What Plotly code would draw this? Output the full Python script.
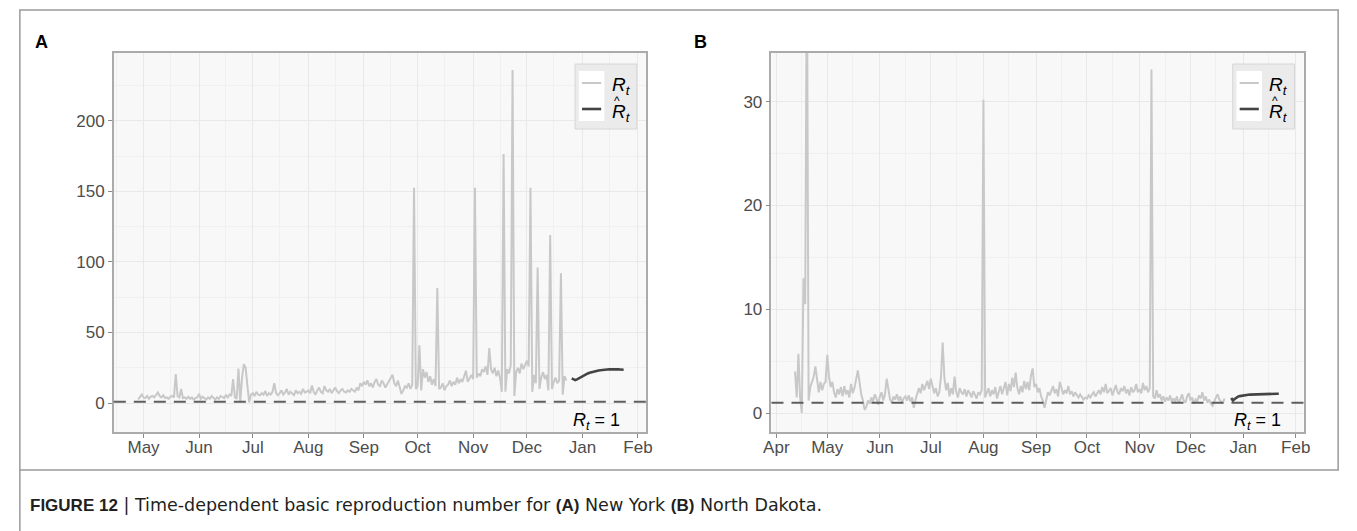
import pandas as pd
import plotly.graph_objects as go

# ---------------- New York: daily R_t (2020-04-28 .. 2020-12-23) ----------------
ny_apr = [2.5, 4, 6]
ny_may = [4, 3.5, 5, 3, 4.5, 5, 4, 6, 7.5, 5, 4, 5.5, 3.5, 4, 3, 4.5, 5, 4, 20.5, 5,
          4, 10, 3.5, 4, 3, 4.5, 3, 4, 2.5, 3.5, 4]
ny_jun = [6.5, 3, 4.5, 3.5, 2.5, 4, 3, 5, 3.5, 2.5, 4, 3, 5, 4, 3.5, 5.5, 4, 6, 5, 17,
          4, 3, 24.5, 1, 18, 27.5, 25, 12, 0.5, 6]
ny_jul = [7, 5, 8, 6, 5.5, 7, 6, 8.5, 5, 7, 6, 8, 14, 7, 5.5, 7, 9, 6, 7.5, 10,
          6, 8, 7, 5.5, 9, 7, 8, 6.5, 10, 7.5, 8]
ny_aug = [9, 7, 12.5, 8, 6, 9, 11, 8, 7, 12, 9, 8, 10, 7, 9, 11, 8.5, 7, 9, 10,
          8, 7.5, 9, 8, 10, 9, 8, 11, 9, 14, 12]
ny_sep = [15, 13, 16, 12, 14, 11, 15, 17, 13, 12, 16, 14, 11, 13, 15, 18, 20, 14, 12, 16,
          10, 6.5, 9, 12, 11, 14, 10, 13, 152.5, 10]
ny_oct = [12, 41, 9, 24, 18, 22, 15, 19, 13, 17, 12, 81.5, 10, 11, 14, 9, 12, 13, 16, 12,
          15, 13, 18, 14, 17, 15, 19, 23, 15, 18, 20]
ny_nov = [17, 152.5, 18, 21, 19, 24, 22, 26, 20, 39, 24, 21, 25, 19, 23, 18, 8, 176.5, 8, 24,
          21, 27, 236, 5, 22, 25, 21, 28, 24, 27]
ny_dec = [30, 26, 152.5, 8, 20, 14, 96, 10, 18, 22, 17, 20, 9, 119, 10, 15, 18, 14, 16, 92,
          6, 19, 16]
# Fitted R-hat for New York (2020-12-26 .. 2021-01-24)
ny_fit = [17.5, 16.8, 16.3, 16.8, 17.6, 18.4, 19.2, 19.9, 20.5, 21.0, 21.5, 21.9, 22.3, 22.6,
          22.9, 23.1, 23.3, 23.5, 23.6, 23.7, 23.8, 23.9, 23.9, 24.0, 24.0, 23.9, 23.9, 23.8,
          23.7, 23.6]

# ---------------- North Dakota: daily R_t (2020-04-12 .. 2020-12-21) ----------------
nd_apr = [4.0, 1.5, 5.7, 1.5, 0.0, 13, 10.5, 45, 1.2, 2.5, 3.0, 3.5, 4.5, 3.0, 2.0, 3.0,
          2.2, 2.8, 3.0]
nd_may = [5.6, 3.5, 2.5, 3.0, 2.0, 1.5, 2.3, 1.8, 2.5, 1.6, 2.6, 1.8, 2.2, 1.5, 2.8, 1.9,
          2.4, 3.2, 4.1, 3.0, 1.8, 1.2, 0.3, 0.6, 1.2, 0.9, 1.5, 1.1, 1.8, 1.4, 0.8]
nd_jun = [1.6, 2.0, 1.2, 1.8, 3.3, 2.2, 1.3, 1.0, 1.6, 1.3, 1.8, 1.2, 1.6, 1.0, 1.4, 1.6,
          1.2, 1.7, 1.1, 1.5, 0.5, 1.3, 2.0, 2.4, 1.9, 2.8, 2.2, 2.6, 3.1, 2.3]
nd_jul = [3.3, 2.6, 1.9, 2.4, 1.6, 2.0, 3.5, 6.8, 3.4, 2.2, 2.9, 1.6, 2.4, 1.8, 3.5, 2.0,
          1.5, 2.4, 2.0, 1.8, 2.3, 1.6, 2.2, 1.9, 1.5, 2.1, 1.7, 1.4, 2.0, 1.8, 2.2]
nd_aug = [30.2, 1.5, 1.9, 2.4, 1.6, 2.2, 1.8, 2.5, 1.4, 2.0, 2.6, 1.8, 2.3, 3.0, 1.7, 2.8,
          2.1, 3.4, 2.5, 3.9, 2.4, 1.8, 2.6, 2.0, 3.1, 2.3, 3.0, 2.2, 3.6, 4.3, 2.5]
nd_sep = [2.8, 2.0, 2.4, 1.6, 1.2, 0.5, 1.4, 2.0, 1.7, 2.2, 2.6, 1.9, 2.3, 1.6, 3.0, 2.4,
          1.8, 2.2, 1.9, 2.6, 1.8, 2.1, 1.6, 2.0, 1.7, 1.5, 1.8, 1.6, 1.3, 1.5]
nd_oct = [1.4, 1.7, 1.5, 1.8, 2.0, 1.6, 1.9, 2.2, 1.8, 2.5, 2.0, 2.8, 1.9, 2.1, 2.4, 1.7,
          2.2, 2.7, 2.0, 1.8, 2.4, 2.1, 2.6, 1.9, 2.3, 1.7, 2.5, 2.0, 2.2, 2.8, 2.0]
nd_nov = [2.3, 1.9, 2.9, 2.2, 2.6, 2.0, 2.4, 33.1, 1.6, 1.4, 2.2, 1.5, 1.8, 1.2, 1.6, 1.1,
          1.5, 1.2, 1.7, 1.0, 1.4, 1.1, 1.6, 1.0, 1.3, 1.8, 1.2, 1.0, 1.6, 1.9]
nd_dec = [1.2, 1.5, 0.9, 1.3, 1.1, 1.7, 1.4, 2.0, 1.2, 1.6, 1.0, 1.3, 0.9, 0.7, 1.2, 1.5,
          1.8, 1.3, 1.1, 0.9, 1.4]
# Fitted R-hat for North Dakota (2020-12-25 .. 2021-01-22)
nd_fit = [1.45, 1.2, 1.35, 1.5, 1.58, 1.63, 1.67, 1.7, 1.72, 1.74, 1.76, 1.77, 1.78, 1.79,
          1.8, 1.81, 1.82, 1.82, 1.83, 1.83, 1.84, 1.84, 1.85, 1.85, 1.85, 1.85, 1.86, 1.86,
          1.86]


def series(chunks):
    """Join (first-day, values) chunks into one dated series."""
    xs, ys = [], []
    for start, vals in chunks:
        xs.extend(pd.date_range(start, periods=len(vals), freq="D"))
        ys.extend(vals)
    return xs, ys


ny_x, ny_y = series([("2020-04-28", ny_apr), ("2020-05-01", ny_may), ("2020-06-01", ny_jun),
                     ("2020-07-01", ny_jul), ("2020-08-01", ny_aug), ("2020-09-01", ny_sep),
                     ("2020-10-01", ny_oct), ("2020-11-01", ny_nov), ("2020-12-01", ny_dec)])
ny_fx, ny_fy = series([("2020-12-26", ny_fit)])
nd_x, nd_y = series([("2020-04-12", nd_apr), ("2020-05-01", nd_may), ("2020-06-01", nd_jun),
                     ("2020-07-01", nd_jul), ("2020-08-01", nd_aug), ("2020-09-01", nd_sep),
                     ("2020-10-01", nd_oct), ("2020-11-01", nd_nov), ("2020-12-01", nd_dec)])
nd_fx, nd_fy = series([("2020-12-25", nd_fit)])

W, H = 1357, 531
RT_COL = "#C8C8C8"
FIT_COL = "#444444"
FONT = "Liberation Sans"


def px_x(v):
    return v / W


def px_y(v):
    return 1 - v / H


fig = go.Figure()
fig.add_trace(go.Scatter(x=ny_x, y=ny_y, mode="lines", line=dict(color=RT_COL, width=2),
                         xaxis="x", yaxis="y", showlegend=False))
fig.add_trace(go.Scatter(x=ny_fx, y=ny_fy, mode="lines", line=dict(color=FIT_COL, width=2.6),
                         xaxis="x", yaxis="y", showlegend=False))
fig.add_trace(go.Scatter(x=nd_x, y=nd_y, mode="lines", line=dict(color=RT_COL, width=2),
                         xaxis="x2", yaxis="y2", showlegend=False))
fig.add_trace(go.Scatter(x=nd_fx, y=nd_fy, mode="lines", line=dict(color=FIT_COL, width=2.6),
                         xaxis="x2", yaxis="y2", showlegend=False))

ydom = [px_y(432), px_y(53)]
axis_common = dict(showline=True, mirror=True, linecolor="#ABABAB", linewidth=1.5,
                   ticks="outside", ticklen=4, tickcolor="#8A8A8A", tickwidth=1,
                   showgrid=True, gridcolor="#E9E9E9", gridwidth=1, zeroline=False,
                   tickfont=dict(family=FONT, size=17, color="#4D4D4D"))

xcommon = dict(axis_common, type="date", dtick="M1", tickformat="%b",
               ticklabelstandoff=-5,
               minor=dict(showgrid=True, gridcolor="#F0F0F0", dtick="M1",
                          tick0="2020-01-16", ticks=""))

fig.update_layout(
    width=W, height=H,
    margin=dict(l=0, r=0, t=0, b=0),
    paper_bgcolor="white", plot_bgcolor="#F8F8F8",
    showlegend=False,
    xaxis=dict(xcommon, domain=[px_x(107), px_x(645)],
               range=["2020-04-14 10:00", "2021-02-05 10:00"], anchor="y"),
    yaxis=dict(axis_common, domain=ydom, range=[-20.5, 248], dtick=50, tick0=0,
               minor=dict(showgrid=True, gridcolor="#F0F0F0", dtick=50, tick0=25),
               anchor="x"),
    xaxis2=dict(xcommon, domain=[px_x(772), px_x(1310)],
                range=["2020-03-29 03:00", "2021-02-05 14:00"], anchor="y2"),
    yaxis2=dict(axis_common, domain=ydom, range=[-1.83, 34.7], dtick=10, tick0=0,
                minor=dict(showgrid=True, gridcolor="#F0F0F0", dtick=10, tick0=5),
                anchor="x2"),
)

shapes = []
annotations = []
RT_HTML = "<i>R</i><sub><i>t</i></sub>"


def dom_y(pix):
    """Panel-relative vertical position of a pixel row."""
    return (432 - pix) / 379


# reference line R_t = 1 and its label, plus the legend, for each panel
for xa, ya, lab_x, lab_y in [("x", "y", 0.907, -12.8), ("x2", "y2", 0.913, -0.77)]:
    xd, yd = f"{xa} domain", f"{ya} domain"
    shapes.append(dict(type="line", xref=xd, yref=ya, x0=0, x1=1, y0=1, y1=1,
                       line=dict(color="#5E5E5E", width=2, dash="12px,8px")))
    annotations.append(dict(xref=xd, yref=ya, x=lab_x, y=lab_y, showarrow=False,
                            xanchor="center", yanchor="middle",
                            text=RT_HTML + " = 1",
                            font=dict(family=FONT, size=18, color="black")))
    # legend box
    shapes.append(dict(type="rect", xref=xd, yref=yd, x0=0.867, x1=0.983,
                       y0=dom_y(129), y1=dom_y(64),
                       fillcolor="#EBEBEB", line=dict(color="#D6D6D6", width=1)))
    shapes.append(dict(type="rect", xref=xd, yref=yd, x0=0.874, x1=0.922,
                       y0=dom_y(121), y1=dom_y(71),
                       fillcolor="white", line=dict(width=0)))
    shapes.append(dict(type="line", xref=xd, yref=yd, x0=0.880, x1=0.916,
                       y0=dom_y(83), y1=dom_y(83),
                       line=dict(color=RT_COL, width=2)))
    shapes.append(dict(type="line", xref=xd, yref=yd, x0=0.880, x1=0.916,
                       y0=dom_y(109), y1=dom_y(109),
                       line=dict(color=FIT_COL, width=2.6)))
    annotations.append(dict(xref=xd, yref=yd, x=0.932, y=dom_y(86), xanchor="left",
                            yanchor="middle", showarrow=False, text=RT_HTML,
                            font=dict(family=FONT, size=19, color="black")))
    annotations.append(dict(xref=xd, yref=yd, x=0.932, y=dom_y(113), xanchor="left",
                            yanchor="middle", showarrow=False, text=RT_HTML,
                            font=dict(family=FONT, size=19, color="black")))
    annotations.append(dict(xref=xd, yref=yd, x=0.946, y=dom_y(101), xanchor="center",
                            yanchor="middle", showarrow=False, text="^",
                            font=dict(family=FONT, size=12, color="black")))

# outer figure frame
shapes.append(dict(type="rect", xref="paper", yref="paper", x0=px_x(12), x1=px_x(1345),
                   y0=px_y(470), y1=px_y(10), line=dict(color="#9A9A9A", width=1.5)))
shapes.append(dict(type="line", xref="paper", yref="paper", x0=px_x(12), x1=px_x(12),
                   y0=px_y(470), y1=0, line=dict(color="#9A9A9A", width=1.5)))

annotations.append(dict(xref="paper", yref="paper", x=px_x(25), y=px_y(42), showarrow=False,
                        xanchor="left", yanchor="middle", text="<b>A</b>",
                        font=dict(family=FONT, size=18, color="black")))
annotations.append(dict(xref="paper", yref="paper", x=px_x(692), y=px_y(42), showarrow=False,
                        xanchor="left", yanchor="middle", text="<b>B</b>",
                        font=dict(family=FONT, size=18, color="black")))

REG = "<span style=\"font-family:'DejaVu Sans';font-size:17.5px\">"
annotations.append(dict(xref="paper", yref="paper", x=px_x(20), y=px_y(505), showarrow=False,
                        xanchor="left", yanchor="middle",
                        text="<b>FIGURE 12</b>" + REG + " | Time-dependent basic reproduction "
                             "number for </span><b>(A)</b>" + REG + " New York </span>"
                             "<b>(B)</b>" + REG + " North Dakota.</span>",
                        font=dict(family=FONT, size=17, color="#231F20")))

fig.update_layout(shapes=shapes, annotations=annotations)
fig.write_html("out.html")
